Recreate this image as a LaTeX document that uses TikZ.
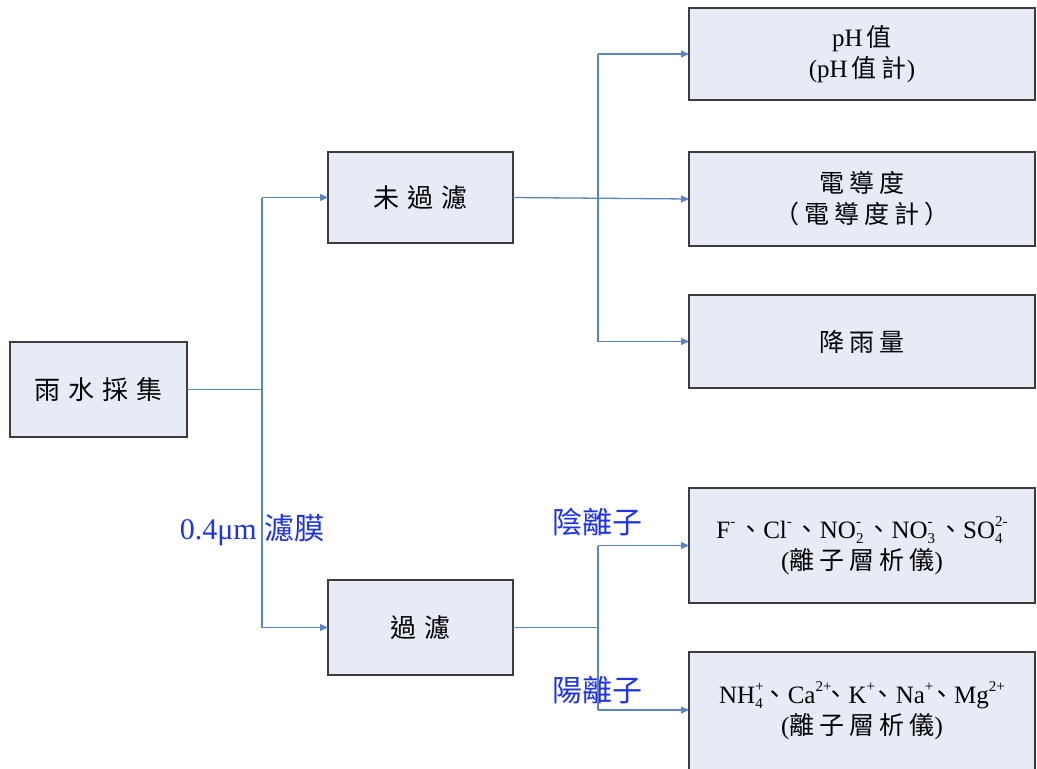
\documentclass[tikz,border=0pt]{standalone}
\usepackage{fontspec}
\setmainfont{Liberation Serif}
\newfontfamily\cjk{Noto Sans CJK TC}
\newfontfamily\cjks[LetterSpace=30]{Noto Sans CJK TC}
\newfontfamily\cjkr[LetterSpace=20]{Noto Sans CJK TC}
\usetikzlibrary{arrows.meta}
\definecolor{boxfill}{HTML}{E6EBF5}
\definecolor{boxdraw}{HTML}{3C3C3C}
\definecolor{linec}{HTML}{5B84C0}
\definecolor{lblue}{HTML}{1E32E6}
\newcommand\ionx[2]{{\fontsize{15}{15}\selectfont\setbox0\hbox{#1}\setbox2\hbox{#2}%
  \ifdim\wd0>\wd2 \wd2=\wd0 \fi
  \rlap{\raisebox{-5pt}{\copy0}}\raisebox{12pt}{\copy2}}\hspace{3pt}}
\newcommand\ionc[2]{{\fontsize{15}{15}\selectfont\setbox0\hbox{#1}\setbox2\hbox{#2}%
  \wd2=0.5\wd2
  \ifdim\wd0>\wd2 \wd2=\wd0 \fi
  \rlap{\raisebox{-5pt}{\copy0}}\raisebox{12pt}{\copy2}}}
\newcommand\dun{{\cjk 、}}
\tikzset{
  box/.style={draw=boxdraw, fill=boxfill, line width=1.4pt, inner sep=0pt, outer sep=0pt, align=center},
  rbox/.style={box, minimum width=346pt, font=\fontsize{25}{31}\selectfont},
  mbox/.style={box, minimum width=185pt, font=\fontsize{26}{30}\selectfont},
  conn/.style={draw=linec, line width=1.3pt},
  arr/.style={conn, -{Triangle[length=8pt,width=7pt]}},
  lbl/.style={text=lblue, inner sep=0pt, font=\fontsize{30}{34}\selectfont}
}
\begin{document}
\begin{tikzpicture}[x=1pt,y=-1pt]
\useasboundingbox (0,0) rectangle (1037,769);
\clip (0,0) rectangle (1037,769);
% boxes
\node[box, minimum width=177pt, minimum height=95pt, font=\fontsize{26}{30}\selectfont] (rain) at (98.5,389.5) {\cjks 雨水採集};
\node[mbox, minimum height=91pt] (unf) at (420.5,197.5) {\cjks 未過濾};
\node[mbox, minimum height=95pt] (fil) at (420.5,627.5) {\cjks 過濾};
\node[rbox, minimum height=92pt] (ph) at (862,54) {pH\hspace{4pt}{\cjk 值}\\(pH\hspace{4pt}{\cjkr 值計})};
\node[rbox, minimum height=94pt] (cond) at (862,199) {\cjkr 電導度\\{\cjkr （電導度計）}};
\node[rbox, minimum height=93pt] (rainq) at (862,341.5) {\cjkr 降雨量};
\node[rbox, minimum height=115pt] (anion) at (862,545.5)
  {F\ionx{}{-}\dun Cl\ionx{}{-}\dun NO\ionx{2}{-}\dun NO\ionx{3}{-}\dun SO\ionx{4}{2-}\\({\cjkr 離子層析儀})};
\node[rbox, minimum height=118pt] (cation) at (862,711)
  {NH\ionc{4}{+}\dun Ca\ionc{}{2+}\dun K\ionc{}{+}\dun Na\ionc{}{+}\dun Mg\ionx{}{2+}\\({\cjkr 離子層析儀})};
% labels
\node[lbl] (memb) at (252,530) {0.4μm {\cjk 濾膜}};
\node[lbl] (anl) at (597,522) {\cjk 陰離子};
\node[lbl] (catl) at (597,690) {\cjk 陽離子};
% junctions
\coordinate (t1) at (262,197.5);
\coordinate (t2) at (262,627.5);
\coordinate (b1) at (598,54);
\coordinate (b2) at (598,341.5);
\coordinate (c1) at (598,545.5);
\coordinate (c2) at (598,710);
% connectors
\draw[conn] (rain.east) -- (rain.east -| t1);
\draw[conn] (t1) -- (t2);
\draw[arr] (t1) -- (unf.west);
\draw[arr] (t2) -- (fil.west);
\draw[arr] (unf.east) -- (cond.west);
\draw[conn] (b1) -- (b2);
\draw[arr] (b1) -- (ph.west);
\draw[arr] (b2) -- (rainq.west);
\draw[conn] (fil.east) -- (fil.east -| c1);
\draw[conn] (c1) -- (c2);
\draw[arr] (c1) -- (anion.west);
\draw[arr] (c2) -- (c2 -| cation.west);
\end{tikzpicture}
\end{document}
